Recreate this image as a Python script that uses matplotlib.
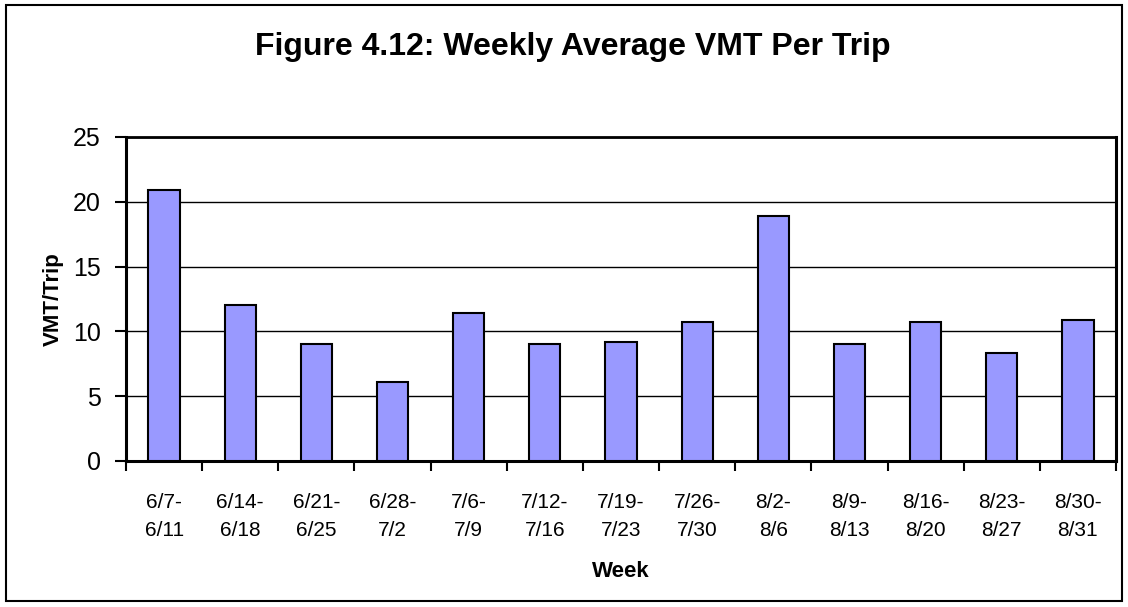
import numpy as np
import matplotlib.pyplot as plt
from matplotlib.patches import Rectangle

weeks = ["6/7-\n6/11", "6/14-\n6/18", "6/21-\n6/25", "6/28-\n7/2", "7/6-\n7/9",
         "7/12-\n7/16", "7/19-\n7/23", "7/26-\n7/30", "8/2-\n8/6", "8/9-\n8/13",
         "8/16-\n8/20", "8/23-\n8/27", "8/30-\n8/31"]
vmt_per_trip = [20.9, 12.0, 9.05, 6.1, 11.4, 9.05, 9.2, 10.75, 18.9, 9.05, 10.75, 8.3, 10.9]
y_ticks = [0, 5, 10, 15, 20, 25]

plt.rcParams['font.family'] = ['Liberation Sans', 'DejaVu Sans']

fig = plt.figure(figsize=(11.28, 6.07), dpi=100)
W, H = 1128, 607
ax = fig.add_axes([126 / W, 1 - 461 / H, (1116 - 126) / W, (461 - 137) / H])

x = np.arange(len(weeks))
ax.bar(x, vmt_per_trip, width=0.41, color='#9999FF', edgecolor='black',
       linewidth=1.5, zorder=3)

ax.set_xlim(-0.5, len(weeks) - 0.5)
ax.set_ylim(0, 25)
ax.set_yticks(y_ticks)
ax.set_yticklabels([str(v) for v in y_ticks], fontsize=18)
ax.yaxis.grid(True, color='black', linewidth=1, zorder=1)

# category labels centred on bars, tick marks between categories
ax.set_xticks(x)
ax.set_xticklabels(weeks, fontsize=15, linespacing=1.6)
ax.tick_params(axis='x', length=0, pad=23)
ax.set_xticks(np.arange(-0.5, len(weeks)), minor=True)
ax.tick_params(axis='x', which='minor', length=7, width=1.5, direction='out')
ax.tick_params(axis='y', length=8, width=1.5, direction='out', pad=10)

for side in ['left', 'bottom', 'right']:
    ax.spines[side].set_linewidth(2.2)
ax.spines['top'].set_linewidth(2)

ax.set_xlabel("Week", fontsize=16, fontweight='bold', labelpad=15)
ax.set_ylabel("VMT/Trip", fontsize=16, fontweight='bold', labelpad=7)

fig.text(0.508, 1 - 47 / H, "Figure 4.12: Weekly Average VMT Per Trip",
         fontsize=23, fontweight='bold', ha='center', va='center')

fig.patches.append(Rectangle((6 / W, 1 - 601 / H), 1116 / W, 596 / H,
                             transform=fig.transFigure, fill=False,
                             edgecolor='black', linewidth=1.5))

fig.savefig("out.png", dpi=100)
